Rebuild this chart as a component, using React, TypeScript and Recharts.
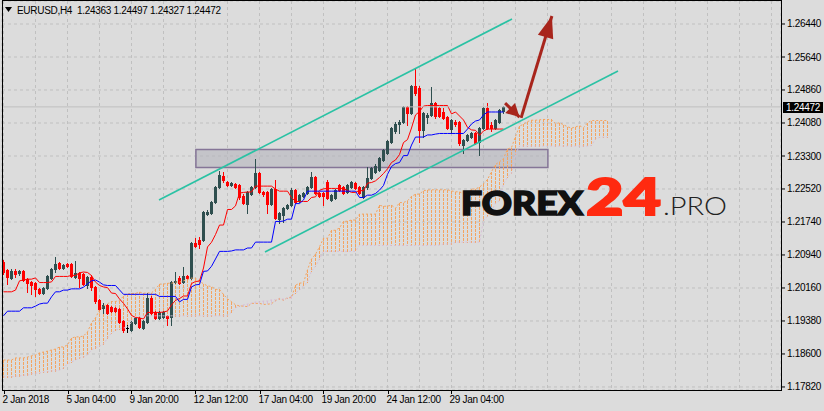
import React from 'react'
import { ComposedChart, Bar, Line, XAxis, YAxis, CartesianGrid, ReferenceArea, ReferenceLine } from 'recharts'

// EURUSD H4 candles, one value per bar (2 Jan 2018 .. 30 Jan 2018)
const OPEN = [
  1.2079, 1.2060, 1.2041, 1.2057, 1.2053, 1.2057, 1.2038, 1.2031, 1.2029, 1.2015,
  1.2005, 1.2017, 1.2041, 1.2062, 1.2076, 1.2065, 1.2074, 1.2074, 1.2043, 1.2053,
  1.2050, 1.2024, 1.2043, 1.2019, 1.1989, 1.1970, 1.1977, 1.1972, 1.1970, 1.1967,
  1.1939, 1.1922, 1.1917, 1.1934, 1.1946, 1.1922, 1.1936, 1.1993, 1.1960, 1.1946,
  1.1948, 1.1951, 1.1948, 1.2031, 1.2041, 1.2031, 1.2046, 1.2041, 1.2124, 1.2131,
  1.2131, 1.2193, 1.2195, 1.2221, 1.2257, 1.2283, 1.2269, 1.2262, 1.2264, 1.2262,
  1.2236, 1.2217, 1.2240, 1.2257, 1.2290, 1.2245, 1.2245, 1.2217, 1.2252, 1.2181,
  1.2190, 1.2207, 1.2214, 1.2250, 1.2224, 1.2236, 1.2243, 1.2257, 1.2281, 1.2243,
  1.2243, 1.2269, 1.2226, 1.2231, 1.2262, 1.2257, 1.2245, 1.2257, 1.2266, 1.2257,
  1.2233, 1.2257, 1.2278, 1.2293, 1.2297, 1.2321, 1.2338, 1.2364, 1.2390, 1.2407,
  1.2411, 1.2447, 1.2433, 1.2497, 1.2492, 1.2392, 1.2423, 1.2428, 1.2456, 1.2445,
  1.2435, 1.2423, 1.2395, 1.2411, 1.2411, 1.2357, 1.2369, 1.2376, 1.2385, 1.2364,
  1.2397, 1.2445, 1.2404, 1.2397, 1.2411, 1.24363,
]
const HIGH = [
  1.2084, 1.2062, 1.2062, 1.2062, 1.2060, 1.2060, 1.2041, 1.2034, 1.2031, 1.2017,
  1.2019, 1.2048, 1.2065, 1.2091, 1.2079, 1.2074, 1.2076, 1.2076, 1.2081, 1.2055,
  1.2053, 1.2046, 1.2048, 1.2022, 1.1991, 1.1981, 1.1979, 1.1974, 1.1972, 1.1970,
  1.1941, 1.1929, 1.1939, 1.1948, 1.1948, 1.1941, 1.2005, 1.1998, 1.1962, 1.1962,
  1.1962, 1.1953, 1.2034, 1.2055, 1.2046, 1.2067, 1.2048, 1.2126, 1.2136, 1.2138,
  1.2200, 1.2202, 1.2224, 1.2259, 1.2295, 1.2293, 1.2271, 1.2269, 1.2266, 1.2264,
  1.2240, 1.2247, 1.2259, 1.2323, 1.2293, 1.2247, 1.2247, 1.2255, 1.2274, 1.2198,
  1.2209, 1.2217, 1.2255, 1.2252, 1.2240, 1.2245, 1.2259, 1.2293, 1.2283, 1.2245,
  1.2245, 1.2274, 1.2240, 1.2252, 1.2264, 1.2259, 1.2264, 1.2271, 1.2269, 1.2259,
  1.2259, 1.2304, 1.2304, 1.2312, 1.2328, 1.2347, 1.2369, 1.2399, 1.2411, 1.2416,
  1.2449, 1.2449, 1.2499, 1.2537, 1.2497, 1.2435, 1.2433, 1.2494, 1.2459, 1.2447,
  1.2445, 1.2426, 1.2418, 1.2416, 1.2414, 1.2371, 1.2383, 1.2388, 1.2388, 1.2399,
  1.2447, 1.2456, 1.2411, 1.2418, 1.2442, 1.24497,
]
const LOW = [
  1.2050, 1.2027, 1.2038, 1.2043, 1.2048, 1.2034, 1.2008, 1.2003, 1.1998, 1.2003,
  1.2003, 1.2015, 1.2038, 1.2055, 1.2062, 1.2062, 1.2067, 1.2043, 1.2041, 1.2019,
  1.2024, 1.2017, 1.2012, 1.1981, 1.1965, 1.1958, 1.1955, 1.1960, 1.1960, 1.1934,
  1.1913, 1.1913, 1.1915, 1.1932, 1.1922, 1.1920, 1.1934, 1.1955, 1.1943, 1.1943,
  1.1946, 1.1929, 1.1929, 1.2029, 1.2027, 1.2029, 1.2038, 1.2038, 1.2114, 1.2112,
  1.2129, 1.2190, 1.2193, 1.2219, 1.2255, 1.2269, 1.2259, 1.2259, 1.2255, 1.2228,
  1.2217, 1.2195, 1.2238, 1.2255, 1.2243, 1.2236, 1.2195, 1.2214, 1.2181, 1.2171,
  1.2174, 1.2205, 1.2212, 1.2219, 1.2221, 1.2233, 1.2240, 1.2255, 1.2240, 1.2233,
  1.2214, 1.2228, 1.2224, 1.2228, 1.2247, 1.2240, 1.2243, 1.2255, 1.2252, 1.2240,
  1.2231, 1.2252, 1.2276, 1.2290, 1.2295, 1.2319, 1.2335, 1.2361, 1.2385, 1.2385,
  1.2409, 1.2404, 1.2430, 1.2475, 1.2364, 1.2376, 1.2409, 1.2426, 1.2421, 1.2423,
  1.2418, 1.2395, 1.2385, 1.2402, 1.2357, 1.2338, 1.2366, 1.2373, 1.2359, 1.2333,
  1.2395, 1.2395, 1.2390, 1.2395, 1.2409, 1.24327,
]
const CLOSE = [
  1.2055, 1.2043, 1.2057, 1.2050, 1.2057, 1.2036, 1.2029, 1.2024, 1.2015, 1.2005,
  1.2017, 1.2046, 1.2062, 1.2074, 1.2065, 1.2072, 1.2069, 1.2046, 1.2053, 1.2041,
  1.2027, 1.2043, 1.2019, 1.1986, 1.1967, 1.1977, 1.1958, 1.1962, 1.1962, 1.1936,
  1.1917, 1.1922, 1.1936, 1.1946, 1.1924, 1.1939, 1.1993, 1.1958, 1.1946, 1.1960,
  1.1960, 1.1946, 1.2031, 1.2034, 1.2029, 1.2046, 1.2041, 1.2124, 1.2117, 1.2122,
  1.2198, 1.2198, 1.2221, 1.2257, 1.2285, 1.2274, 1.2262, 1.2266, 1.2257, 1.2233,
  1.2219, 1.2245, 1.2257, 1.2290, 1.2245, 1.2240, 1.2217, 1.2252, 1.2183, 1.2195,
  1.2207, 1.2214, 1.2250, 1.2221, 1.2238, 1.2243, 1.2257, 1.2281, 1.2243, 1.2236,
  1.2236, 1.2231, 1.2238, 1.2250, 1.2250, 1.2243, 1.2262, 1.2269, 1.2255, 1.2243,
  1.2257, 1.2278, 1.2302, 1.2307, 1.2326, 1.2345, 1.2366, 1.2397, 1.2407, 1.2411,
  1.2447, 1.2433, 1.2497, 1.2480, 1.2392, 1.2433, 1.2428, 1.2456, 1.2426, 1.2426,
  1.2421, 1.2397, 1.2416, 1.2407, 1.2361, 1.2369, 1.2380, 1.2385, 1.2361, 1.2397,
  1.2445, 1.2397, 1.2397, 1.2416, 1.2440, 1.24472,
]

// Ichimoku values for bars whose look-back reaches before the first candle
const TENKAN_START = [1.2008, 1.2008, 1.2008, 1.2012, 1.2034, 1.2036, 1.2038, 1.2038]
const KIJUN_START = [
  1.1951, 1.1962, 1.1962, 1.1962, 1.1962, 1.1970, 1.1970, 1.1970, 1.1974, 1.1979,
  1.1981, 1.1981, 1.1996, 1.2008, 1.2008, 1.2012, 1.2012, 1.2015, 1.2015, 1.2015,
  1.2019, 1.2027, 1.2034, 1.2036, 1.2031,
]
const SPAN_A_START = [
  1.1846, 1.1846, 1.1846, 1.1851, 1.1851, 1.1851, 1.1853, 1.1856, 1.1858, 1.1863,
  1.1865, 1.1867, 1.1870, 1.1872, 1.1877, 1.1877, 1.1882, 1.1898, 1.1901, 1.1901,
  1.1903, 1.1913, 1.1934, 1.1946, 1.1965, 1.1974,
]
const SPAN_B_START = [
  1.1806, 1.1806, 1.1806, 1.1808, 1.1808, 1.1810, 1.1810, 1.1813, 1.1815, 1.1815,
  1.1818, 1.1818, 1.1820, 1.1820, 1.1822, 1.1827, 1.1837, 1.1841, 1.1846, 1.1851,
  1.1853, 1.1858, 1.1870, 1.1875, 1.1879, 1.1884, 1.1898, 1.1910, 1.1917, 1.1920,
  1.1922, 1.1924, 1.1936, 1.1948, 1.1951, 1.1951, 1.1951, 1.1951, 1.1951, 1.1951,
  1.1951, 1.1951, 1.1951, 1.1951, 1.1951, 1.1951, 1.1951, 1.1951, 1.1951, 1.1951,
  1.1951, 1.1951, 1.1951, 1.1951, 1.1951, 1.1951, 1.1951, 1.1960, 1.1970, 1.1974,
  1.1977, 1.1979, 1.1981, 1.1984, 1.1984, 1.1986, 1.1986, 1.1989, 1.1989, 1.1991,
  1.1991, 1.1993, 1.1998, 1.2005, 1.2012, 1.2022, 1.2031,
]

const Y_TICK_VALUES = [1.1782, 1.18604, 1.19387, 1.20171, 1.20955, 1.21738, 1.22522, 1.23305, 1.24089, 1.24873, 1.25656, 1.2644]
const Y_TICK_LABELS = ['1.17820', '1.18600', '1.19380', '1.20160', '1.20940', '1.21740', '1.22520', '1.23300', '1.24080', '1.24860', '1.25640', '1.26440']
const X_TICK_BARS = [0, 16, 32, 48, 64, 80, 96, 112]
const X_TICK_LABELS = ['2 Jan 2018', '5 Jan 04:00', '9 Jan 20:00', '12 Jan 12:00', '17 Jan 04:00', '19 Jan 20:00', '24 Jan 12:00', '29 Jan 04:00']

// drawn objects: channel, support box, arrows (bar index, price)
const UPPER_CHANNEL = [{ i: 38.875, p: 1.2226 }, { i: 127.125, p: 1.26559 }]
const LOWER_CHANNEL = [{ i: 65.375, p: 1.21025 }, { i: 153.625, p: 1.25324 }]
const SUPPORT_BOX = { i1: 48.1, i2: 136.1, p1: 1.2303, p2: 1.2346 }
const SMALL_ARROW = [{ i: 125.4, p: 1.2456 }, { i: 129.0, p: 1.2423 }]
const BIG_ARROW = [{ i: 129.4, p: 1.2421 }, { i: 137.1, p: 1.2663 }]

const W = 824
const H = 411
const PLOT_W = 779
const PLOT_H = 389
const X_DOMAIN: [number, number] = [-0.375, 194.375]
const Y_DOMAIN: [number, number] = [1.17748, 1.26986]
const GRID_BARS = Array.from({ length: 25 }, (_, k) => k * 8)

const BG = '#dcdcdc'
const BULL = '#2f4f4f'
const BEAR = '#ff0000'
const SANDY = '#f4a460'
const THISTLE = '#d8bfd8'
const TEAL = '#2ac2a4'
const ARROW = '#a8251c'
const FONT = "'Liberation Sans', Arial, sans-serif"

const N = CLOSE.length
const SHIFT = 26

const midRange = (end: number, len: number) => {
  let hi = -Infinity
  let lo = Infinity
  for (let k = end - len + 1; k <= end; k++) {
    hi = Math.max(hi, HIGH[k])
    lo = Math.min(lo, LOW[k])
  }
  return (hi + lo) / 2
}

const tenkan = CLOSE.map((_, i) => (i >= 8 ? midRange(i, 9) : TENKAN_START[i]))
const kijun = CLOSE.map((_, i) => (i >= 25 ? midRange(i, 26) : KIJUN_START[i]))
const spanA = Array.from({ length: N + SHIFT }, (_, j) => (j < SHIFT ? SPAN_A_START[j] : (tenkan[j - SHIFT] + kijun[j - SHIFT]) / 2))
const spanB = Array.from({ length: N + SHIFT }, (_, j) => (j < SPAN_B_START.length ? SPAN_B_START[j] : midRange(j - SHIFT, 52)))

const rows = spanA.map((a, i) => ({
  i,
  o: i < N ? OPEN[i] : null,
  h: i < N ? HIGH[i] : null,
  l: i < N ? LOW[i] : null,
  c: i < N ? CLOSE[i] : null,
  hl: i < N ? [LOW[i], HIGH[i]] : null,
  tenkan: i < N ? tenkan[i] : null,
  kijun: i < N ? kijun[i] : null,
  spanA: a,
  spanB: spanB[i],
  aboveB: a >= spanB[i],
  cloud: [Math.min(a, spanB[i]), Math.max(a, spanB[i])],
}))

const last = N - 1
const HEADER = `EURUSD,H4  ${OPEN[last].toFixed(5)} ${HIGH[last].toFixed(5)} ${LOW[last].toFixed(5)} ${CLOSE[last].toFixed(5)}`

function Candle(props: any) {
  const { x, y, width, height, payload } = props
  if (!payload || payload.o == null || !Number.isFinite(y)) return <g />
  const { o, h, l, c } = payload
  const top = Math.min(y, y + height)
  const span = Math.abs(height)
  const k = h - l > 0 ? span / (h - l) : 0
  const py = (p: number) => top + (h - p) * k
  const cx = Math.round(x + width / 2)
  const up = c > o
  const doji = c === o
  const wick = doji ? '#000' : up ? BULL : BEAR
  const bTop = Math.round(py(Math.max(o, c)))
  const bBot = Math.round(py(Math.min(o, c)))
  return (
    <g shapeRendering="crispEdges">
      <line x1={cx + 0.5} x2={cx + 0.5} y1={Math.round(top)} y2={Math.round(top + span) + 1} stroke={wick} />
      {doji ? (
        <line x1={cx - 1} x2={cx + 2} y1={bTop + 0.5} y2={bTop + 0.5} stroke="#000" />
      ) : (
        <rect x={cx - 1} y={bTop} width={3} height={Math.max(1, bBot - bTop + 1)} fill={up ? BULL : BEAR} />
      )}
    </g>
  )
}

// cloud hatching: short vertical dashes between span A and span B
function Hatch(props: any) {
  const { x, y, width, height, payload } = props
  if (!payload || payload.spanA == null || !Number.isFinite(y)) return <g />
  const cx = Math.round(x + width / 2)
  const color = payload.aboveB === false ? THISTLE : SANDY
  const y1 = Math.round(Math.min(y, y + height))
  const y2 = Math.round(Math.max(y, y + height))
  const dashes = []
  for (let yy = y1; yy <= y2; yy += 4) {
    dashes.push(<rect key={yy} x={cx} y={yy} width={1} height={Math.min(3, y2 - yy + 1)} fill={color} />)
  }
  return <g shapeRendering="crispEdges">{dashes}</g>
}

function arrowHead(pts: { i: number; p: number }[], len: number, half: number) {
  const [a, b] = pts
  const dx = (b.i - a.i) * (PLOT_W / (X_DOMAIN[1] - X_DOMAIN[0]))
  const dy = -(b.p - a.p) * (PLOT_H / (Y_DOMAIN[1] - Y_DOMAIN[0]))
  const ang = (Math.atan2(dy, dx) * 180) / Math.PI
  return (props: any) => {
    if (props.index !== pts.length - 1) return <g key={`s${props.index}`} />
    return (
      <polygon
        key="head"
        points={`0,0 ${-len},${-half} ${-len},${half}`}
        transform={`translate(${props.cx},${props.cy}) rotate(${ang})`}
        fill={ARROW}
      />
    )
  }
}

function XTick({ x, payload }: any) {
  const k = X_TICK_BARS.indexOf(payload.value)
  if (k < 0) return <g />
  const px = Math.round(x) + 0.5
  return (
    <g>
      <line x1={px} x2={px} y1={390} y2={394} stroke="#000" />
      <text x={px - 2} y={403} fontSize={10} fontFamily={FONT} letterSpacing={-0.3} fill="#000">
        {X_TICK_LABELS[k]}
      </text>
    </g>
  )
}

function YTick({ x, y, payload }: any) {
  const k = Y_TICK_VALUES.indexOf(payload.value)
  return (
    <text x={x} y={y + 3.5} fontSize={10} fontFamily={FONT} letterSpacing={-0.3} fill="#000">
      {Y_TICK_LABELS[k]}
    </text>
  )
}

function PriceTag(props: any) {
  const vb = props.viewBox || {}
  const right = (vb.x || 0) + (vb.width || 0)
  const y = vb.y || 0
  return (
    <g>
      <rect x={right + 2} y={Math.round(y) - 5} width={40} height={11} fill="#000" />
      <text x={right + 5} y={Math.round(y) + 4} fontSize={10} fontFamily={FONT} letterSpacing={-0.3} fill="#fff">
        {CLOSE[last].toFixed(5)}
      </text>
    </g>
  )
}

export default function App() {
  return (
    <div style={{ position: 'absolute', left: 0, top: 0, width: W, height: H, background: BG, fontFamily: FONT }}>
      <ComposedChart width={W} height={H} data={rows} margin={{ top: 1, right: 0, bottom: 0, left: 2 }}>
        <CartesianGrid stroke="#c0c0c0" strokeDasharray="3 3" />
        <XAxis
          dataKey="i"
          type="number"
          domain={X_DOMAIN}
          allowDataOverflow
          ticks={GRID_BARS}
          interval={0}
          tick={<XTick />}
          tickLine={false}
          axisLine={false}
          height={21}
        />
        <XAxis xAxisId="h" dataKey="i" type="number" domain={X_DOMAIN} allowDataOverflow hide />
        <YAxis
          orientation="right"
          type="number"
          domain={Y_DOMAIN}
          allowDataOverflow
          ticks={Y_TICK_VALUES}
          interval={0}
          width={43}
          tick={<YTick />}
          tickSize={4}
          tickLine={{ stroke: '#000' }}
          axisLine={false}
        />
        <Bar xAxisId="h" dataKey="cloud" barSize={1} fill={SANDY} shape={<Hatch />} isAnimationActive={false} />
        <Line dataKey="spanA" stroke={SANDY} strokeDasharray="2 2" dot={false} activeDot={false} isAnimationActive={false} />
        <Line dataKey="spanB" stroke={THISTLE} strokeDasharray="2 2" dot={false} activeDot={false} isAnimationActive={false} />
        <Bar dataKey="hl" barSize={3} shape={<Candle />} isAnimationActive={false} />
        <Line dataKey="tenkan" stroke="#ff0000" strokeWidth={1} dot={false} activeDot={false} isAnimationActive={false} />
        <Line dataKey="kijun" stroke="#0000ff" strokeWidth={1} dot={false} activeDot={false} isAnimationActive={false} />
        <ReferenceLine y={CLOSE[last]} stroke="#c0c0c0" label={(p: any) => <PriceTag {...p} />} />
        <ReferenceArea
          x1={SUPPORT_BOX.i1}
          x2={SUPPORT_BOX.i2}
          y1={SUPPORT_BOX.p1}
          y2={SUPPORT_BOX.p2}
          fill="#b4b4bc"
          fillOpacity={0.6}
          stroke="#857597"
          strokeWidth={1.5}
        />
        <Line data={UPPER_CHANNEL} dataKey="p" stroke={TEAL} strokeWidth={1.6} dot={false} activeDot={false} isAnimationActive={false} />
        <Line data={LOWER_CHANNEL} dataKey="p" stroke={TEAL} strokeWidth={1.6} dot={false} activeDot={false} isAnimationActive={false} />
        <Line data={SMALL_ARROW} dataKey="p" stroke={ARROW} strokeWidth={3} dot={arrowHead(SMALL_ARROW, 13, 7)} activeDot={false} isAnimationActive={false} />
        <Line data={BIG_ARROW} dataKey="p" stroke={ARROW} strokeWidth={3} dot={arrowHead(BIG_ARROW, 22, 8)} activeDot={false} isAnimationActive={false} />
      </ComposedChart>
      <svg width={W} height={H} style={{ position: 'absolute', left: 0, top: 0, pointerEvents: 'none' }}>
        <rect x={2.5} y={0.5} width={779} height={390} fill="none" stroke="#000" />
        <polygon points="5,7 12,7 8.5,12" fill="#000" />
        <text x={17} y={14} fontSize={10} fontFamily={FONT} letterSpacing={-0.3} fill="#000" style={{ whiteSpace: 'pre' }}>
          {HEADER}
        </text>
        <g fontFamily="Lato, 'Open Sans', sans-serif">
          <text x={461} y={215} fontSize={32} fontWeight={900} textLength={122} lengthAdjust="spacingAndGlyphs" fill="#111" stroke="#111" strokeWidth={1.6}>
            FOREX
          </text>
          <text x={586} y={215} fontSize={51} fontWeight={900} textLength={75} lengthAdjust="spacingAndGlyphs" fill="#ff2a10" stroke="#ff2a10" strokeWidth={2}>
            24
          </text>
          <text x={663} y={215} fontSize={25} fontWeight={300} textLength={64} lengthAdjust="spacingAndGlyphs" fill="#222">
            .PRO
          </text>
        </g>
      </svg>
    </div>
  )
}
